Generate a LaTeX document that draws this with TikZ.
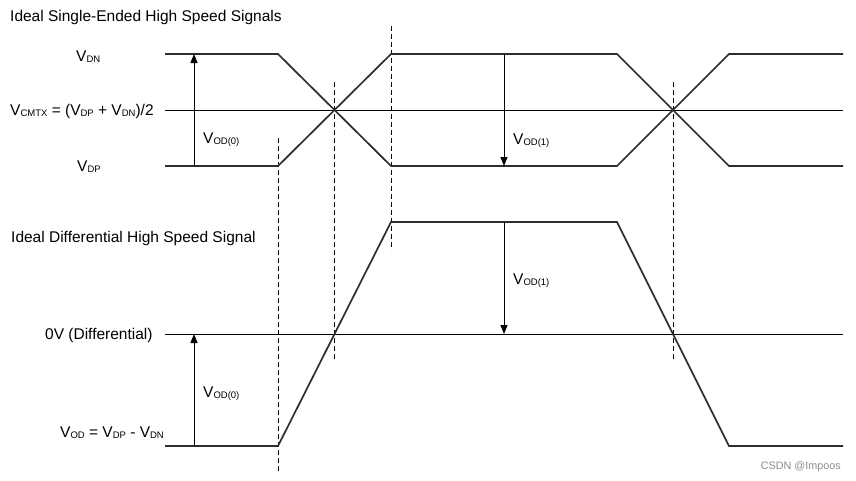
\documentclass[tikz,border=0pt]{standalone}
\usepackage{fontspec}
\setmainfont{Liberation Sans}
\usetikzlibrary{arrows.meta}
\newcommand\sbs[1]{\raisebox{-1.6pt}{\fontsize{9.5}{10}\selectfont #1}}
\begin{document}
\begin{tikzpicture}[x=1pt,y=-1pt,
  sig/.style={line width=1.7pt,black!82,line join=miter},
  thin/.style={line width=0.9pt,black},
  dsh/.style={line width=0.8pt,black,dash pattern=on 5pt off 3pt},
  meas/.style={line width=0.9pt,black,-{Triangle[length=9pt,width=7pt]}},
  lbl/.style={anchor=base west,inner sep=0pt,font=\fontsize{15.5}{18}\selectfont},
  wm/.style={anchor=base east,inner sep=0pt,text=black!45,font=\fontsize{10.8}{12}\selectfont}]
\useasboundingbox[fill=white] (0,0) rectangle (856,480);

% titles and labels
\node[lbl] (t1) at (10,21) {Ideal Single-Ended High Speed Signals};
\node[lbl] (vdn) at (76,61) {V\sbs{DN}};
\node[lbl] (vcm) at (10,115) {V\sbs{CMTX} = (V\sbs{DP} + V\sbs{DN})/2};
\node[lbl] (vdp) at (77,171) {V\sbs{DP}};
\node[lbl] (od0a) at (203,143) {V\sbs{OD(0)}};
\node[lbl] (od1a) at (513,144) {V\sbs{OD(1)}};
\node[lbl] (t2) at (11,242) {Ideal Differential High Speed Signal};
\node[lbl] (zero) at (45,339.5) {0V (Differential)};
\node[lbl] (od0b) at (203,397) {V\sbs{OD(0)}};
\node[lbl] (vod) at (60,437) {V\sbs{OD} = V\sbs{DP} - V\sbs{DN}};
\node[lbl] (od1b) at (513,284) {V\sbs{OD(1)}};
\node[wm] (csdn) at (841,469) {CSDN @Impoos};

% dashed time markers
\coordinate (d1a) at (278,138); \coordinate (d1b) at (278,473);
\coordinate (d2a) at (334,82);  \coordinate (d2b) at (334,362);
\coordinate (d3a) at (391,26);  \coordinate (d3b) at (391,250);
\coordinate (d4a) at (673,82);  \coordinate (d4b) at (673,362);
\draw[dsh] (d1a) -- (d1b);
\draw[dsh] (d2a) -- (d2b);
\draw[dsh] (d3a) -- (d3b);
\draw[dsh] (d4a) -- (d4b);

% reference lines
\draw[thin] (165,110) -- (843,110);
\draw[thin] (165,334) -- (843,334);

% single-ended signals
\draw[sig] (165,54) -- (278,54) -- (391,166) -- (617,166) -- (729,54) -- (843,54);
\draw[sig] (165,166) -- (278,166) -- (391,54) -- (617,54) -- (729,166) -- (843,166);

% differential signal
\draw[sig] (165,446) -- (278,446) -- (391,222) -- (617,222) -- (729,446) -- (843,446);

% measurement arrows
\coordinate (m1a) at (194,166); \coordinate (m1b) at (194,54);
\coordinate (m2a) at (504,54);  \coordinate (m2b) at (504,166);
\coordinate (m3a) at (194,446); \coordinate (m3b) at (194,334);
\coordinate (m4a) at (504,222); \coordinate (m4b) at (504,334);
\draw[meas] (m1a) -- (m1b);
\draw[meas] (m2a) -- (m2b);
\draw[meas] (m3a) -- (m3b);
\draw[meas] (m4a) -- (m4b);
\end{tikzpicture}
\end{document}
